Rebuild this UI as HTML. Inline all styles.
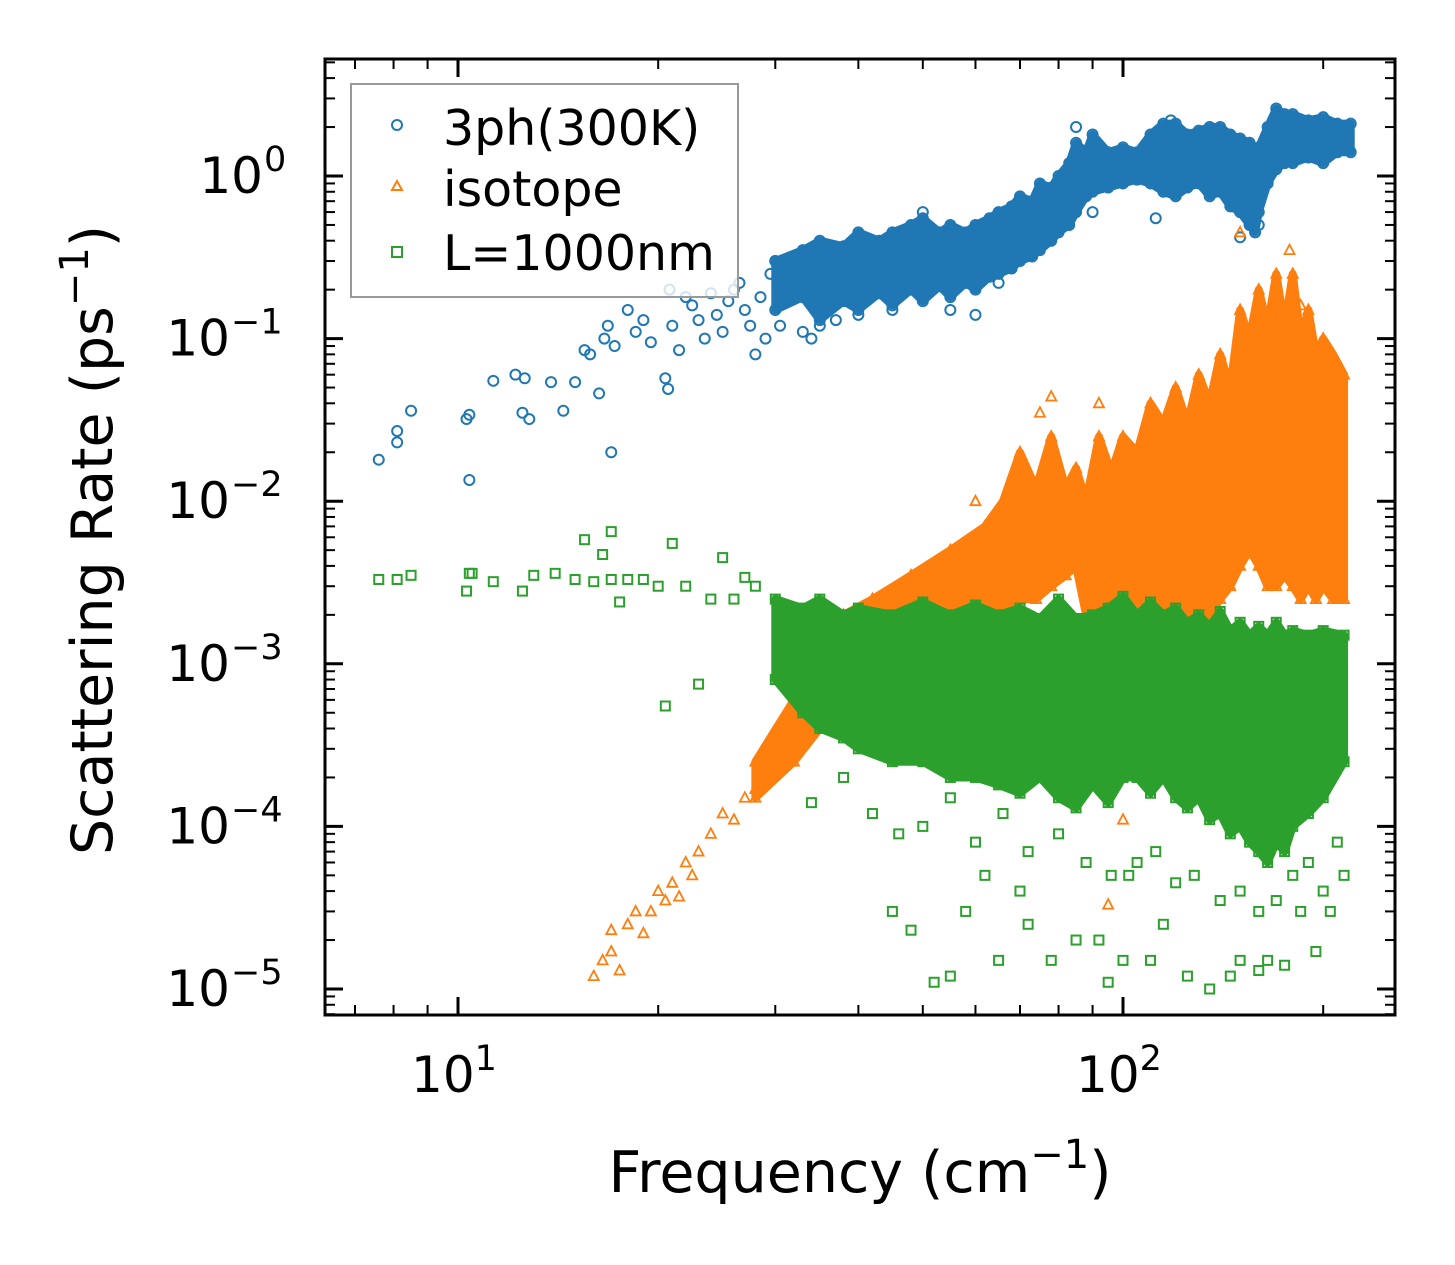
<!DOCTYPE html>
<html><head><meta charset="utf-8"><style>
body{margin:0;background:#fff;}
svg text{font-family:"DejaVu Sans","Liberation Sans",sans-serif;fill:#000;}
</style></head><body>
<svg id="chart" width="1455" height="1265" viewBox="0 0 1455 1265" xmlns="http://www.w3.org/2000/svg" style="position:absolute;left:0;top:0">
<rect width="1455" height="1265" fill="#fff"/>
<g id="marks"></g>
<g id="axes"></g>
</svg>
<script>
// ---- data ----
const blueSparseF=[7.6,8.1,8.1,8.5,10.3,10.4,10.4,11.3,12.2,12.5,12.6,12.8,13.8,14.4,15,15.5,15.8,16.3,16.6,16.8,17,17.2,18,18.5,19,19.5,20.5,20.7,20.8,21,21.5,22,22.5,23,23.5,24,24.5,25,25.5,26,26.5,27,27.5,28,28.5,29,29.5,30,30.5,31,32,33,34,35,37,40,45,50,55,60,65,75,85,90,112,118,150,160];
const blueSparseR=[0.018,0.023,0.027,0.036,0.032,0.034,0.0135,0.055,0.06,0.035,0.057,0.032,0.054,0.036,0.054,0.085,0.08,0.046,0.1,0.12,0.02,0.09,0.15,0.11,0.13,0.095,0.057,0.049,0.2,0.12,0.085,0.18,0.16,0.13,0.1,0.19,0.14,0.11,0.17,0.2,0.22,0.15,0.12,0.08,0.18,0.1,0.25,0.3,0.12,0.2,0.25,0.11,0.1,0.12,0.13,0.14,0.15,0.6,0.15,0.14,0.22,0.5,2.0,0.6,0.55,2.2,0.42,0.5];
const blueBandF=[30,33,35,38,40,43,45,48,50,53,55,58,60,63,65,68,70,73,75,78,80,83,85,88,90,95,100,105,110,115,120,125,130,135,140,145,150,155,158,160,165,170,175,180,190,200,210,220];
const blueBandLo=[0.15,0.18,0.13,0.17,0.15,0.19,0.16,0.2,0.17,0.21,0.18,0.22,0.2,0.24,0.25,0.27,0.3,0.32,0.35,0.4,0.45,0.5,0.6,0.75,0.8,0.85,0.9,0.95,0.9,0.8,0.75,0.85,0.9,0.75,0.8,0.65,0.6,0.5,0.45,0.6,0.9,1.1,1.2,1.2,1.3,1.2,1.4,1.4];
const blueBandHi=[0.3,0.35,0.4,0.37,0.45,0.4,0.45,0.5,0.55,0.45,0.5,0.45,0.5,0.55,0.6,0.65,0.75,0.7,0.9,0.85,1.0,1.2,1.6,1.4,1.8,1.4,1.5,1.4,1.8,2.1,2.1,1.8,1.9,2.0,2.0,1.8,1.7,1.6,1.4,1.5,2.0,2.6,2.4,2.4,2.2,2.3,2.1,2.1];

const orangeSparseF=[16,16.5,17,17,17.5,18,18.5,19,19.5,20,20.5,21,21.5,22,22.5,23,24,25,26,27,28,29,30,95,100,122,60,75,78,92,150,178,185];
const orangeSparseR=[1.2e-5,1.5e-5,1.7e-5,2.3e-5,1.3e-5,2.5e-5,3e-5,2.2e-5,3e-5,4e-5,3.5e-5,4.5e-5,3.7e-5,6e-5,5e-5,7e-5,9e-5,1.2e-4,1.1e-4,1.5e-4,1.7e-4,2e-4,2.5e-4,3.3e-5,1.1e-4,1.5e-4,1e-2,3.5e-2,4.4e-2,4e-2,4.5e-1,3.5e-1,1.6e-1];
const orangeBandF=[28,32,35,38,42,48,55,62,66,70,74,78,82,85,88,92,96,100,105,110,115,120,125,130,135,140,145,150,155,160,165,170,175,180,185,190,195,200,207,215];
const orangeBandLo=[1.5e-4,2.5e-4,4e-4,6e-4,1e-3,1.3e-3,1.5e-3,1.8e-3,2e-3,2.5e-3,2.5e-3,3e-3,3.5e-3,4e-3,2e-3,1e-3,1.2e-3,1.2e-3,1.5e-3,2e-3,1.5e-3,1.5e-3,1.8e-3,1.5e-3,2e-3,2.5e-3,3e-3,4e-3,5e-3,4e-3,3e-3,3e-3,3.5e-3,3e-3,2.5e-3,3e-3,2.5e-3,3e-3,2.5e-3,2.5e-3];
const orangeBandHi=[2.5e-4,6e-4,1.5e-3,2e-3,2.5e-3,3.5e-3,5e-3,7e-3,1e-2,2e-2,1.2e-2,2.5e-2,1.2e-2,1.6e-2,1e-2,2.5e-2,1.5e-2,2.5e-2,2e-2,4e-2,3e-2,5e-2,3e-2,6e-2,4e-2,8e-2,5e-2,1.5e-1,1e-1,2e-1,1.2e-1,2.5e-1,1.2e-1,2.5e-1,1e-1,1.5e-1,8e-2,1e-1,8e-2,6e-2];

const greenSparseF=[7.6,8.1,8.5,10.3,10.4,10.5,11.3,12.5,13,14,15,15.5,16,16.5,17,17,17.5,18,19,20,20.5,21,22,23,24,25,26,27,28,45,48,52,55,58,62,65,70,72,78,85,92,95,100,102,110,115,125,135,145,150,160,165,175,185,195,205,215,34,38,42,46,50,55,60,66,72,80,88,96,105,112,120,128,140,150,160,170,180,190,200,210];
const greenSparseR=[3.3e-3,3.3e-3,3.5e-3,2.8e-3,3.6e-3,3.6e-3,3.2e-3,2.8e-3,3.5e-3,3.6e-3,3.3e-3,5.8e-3,3.2e-3,4.7e-3,3.3e-3,6.5e-3,2.4e-3,3.3e-3,3.3e-3,3e-3,5.5e-4,5.5e-3,3e-3,7.5e-4,2.5e-3,4.5e-3,2.5e-3,3.4e-3,3e-3,3e-5,2.3e-5,1.1e-5,1.2e-5,3e-5,5e-5,1.5e-5,4e-5,2.5e-5,1.5e-5,2e-5,2e-5,1.1e-5,1.5e-5,5e-5,1.5e-5,2.5e-5,1.2e-5,1e-5,1.2e-5,1.5e-5,1.3e-5,1.5e-5,1.4e-5,3e-5,1.7e-5,3e-5,5e-5,1.4e-4,2e-4,1.2e-4,9e-5,1e-4,1.5e-4,8e-5,1.2e-4,7e-5,9e-5,6e-5,5e-5,6e-5,7e-5,4.5e-5,5e-5,3.5e-5,4e-5,3e-5,3.5e-5,5e-5,6e-5,4e-5,8e-5];
const greenBandF=[30,33,35,38,40,45,50,55,60,65,70,75,80,85,90,95,100,105,110,115,120,125,130,135,140,145,150,155,160,165,170,175,180,190,200,215];
const greenBandLo=[8e-4,5e-4,4e-4,3.5e-4,3e-4,2.5e-4,2.5e-4,2e-4,2e-4,1.8e-4,1.6e-4,2e-4,1.5e-4,1.3e-4,1.8e-4,1.4e-4,2e-4,2e-4,1.6e-4,2e-4,1.5e-4,1.3e-4,1.5e-4,1.1e-4,1.2e-4,9e-5,1e-4,8e-5,7e-5,6e-5,8e-5,7e-5,1e-4,1.2e-4,1.5e-4,2.5e-4];
const greenBandHi=[2.5e-3,2.2e-3,2.5e-3,2e-3,2.2e-3,2e-3,2.4e-3,2e-3,2.3e-3,2e-3,2.2e-3,1.9e-3,2.5e-3,1.9e-3,2e-3,2.2e-3,2.6e-3,2e-3,2.4e-3,2e-3,2.2e-3,1.8e-3,2e-3,1.7e-3,2.1e-3,1.6e-3,1.8e-3,1.5e-3,1.7e-3,1.5e-3,1.8e-3,1.5e-3,1.6e-3,1.5e-3,1.6e-3,1.5e-3];

const xTickVals=[10,100];
const yTickExps=[0,-1,-2,-3,-4,-5];

// ---- axes ----
const L=325,R=1395,T=59,B=1015;
const X0=458,XD=665;
const Y0=176,YD=162.6;
const xs=f=>X0+(Math.log10(f)-1)*XD;
const ys=r=>Y0-Math.log10(r)*YD;
const NS='http://www.w3.org/2000/svg';
const marks=document.getElementById('marks'),axes=document.getElementById('axes');
function mk(tag,attrs,parent){const e=document.createElementNS(NS,tag);for(const k in attrs)e.setAttribute(k,attrs[k]);parent.appendChild(e);return e;}

const colors={blue:'#1f77b4',orange:'#ff7f0e',green:'#2ca02c'};
function marker(type,cx,cy,col,g){
  let e;
  if(type==='circle'){e=mk('circle',{cx:cx,cy:cy,r:5,fill:'none',stroke:col,'stroke-width':2},g);}
  else if(type==='tri'){e=mk('polygon',{points:`${cx},${cy-5.5} ${cx-5},${cy+4} ${cx+5},${cy+4}`,fill:'none',stroke:col,'stroke-width':1.8},g);}
  else {e=mk('rect',{x:cx-4.5,y:cy-4.5,width:9,height:9,fill:'none',stroke:col,'stroke-width':2},g);}
  return e;
}
function series(name,type,col,sf,sr,bf,blo,bhi){
  const g=mk('g',{},marks);
  
  
  g.setAttribute('clip-path','url(#plotclip)');
  let pts=bf.map((f,i)=>xs(f)+','+ys(bhi[i]));
  for(let i=bf.length-1;i>=0;i--)pts.push(xs(bf[i])+','+ys(blo[i]));
  const band=mk('polygon',{points:pts.join(' '),fill:col,stroke:col,'stroke-width':8,'stroke-linejoin':'round'},g);
  
  
  bf.forEach((f,i)=>{
    const a=marker(type,xs(f),ys(bhi[i]),col,g);
    
    
    const b=marker(type,xs(f),ys(blo[i]),col,g);
    
    
  });
  sf.forEach((f,i)=>{
    const p=marker(type,xs(f),ys(sr[i]),col,g);
    
    
  });
}
const defs=mk('defs',{},document.getElementById('chart'));
const cp=mk('clipPath',{id:'plotclip'},defs);
mk('rect',{x:L,y:T,width:R-L,height:B-T},cp);

series('three-phonon','circle',colors.blue,blueSparseF,blueSparseR,blueBandF,blueBandLo,blueBandHi);
series('isotope','tri',colors.orange,orangeSparseF,orangeSparseR,orangeBandF,orangeBandLo,orangeBandHi);
series('boundary','square',colors.green,greenSparseF,greenSparseR,greenBandF,greenBandLo,greenBandHi);

const fr=mk('rect',{x:L,y:T,width:R-L,height:B-T,fill:'none',stroke:'#000','stroke-width':3},axes);



for(let d=0;d<=2;d++){for(let m=1;m<=9;m++){
  const v=m*Math.pow(10,d);const x=xs(v);if(x<L||x>R)continue;
  const len=m===1?18:10;
  mk('line',{x1:x,y1:B,x2:x,y2:B-len,stroke:'#000','stroke-width':m===1?3:2},axes);
  mk('line',{x1:x,y1:T,x2:x,y2:T+len,stroke:'#000','stroke-width':m===1?3:2},axes);
}}
xTickVals.forEach(v=>{
  const t=mk('text',{x:xs(v)-4,y:1092,'font-size':50,'text-anchor':'middle'},axes);
  
  
  t.innerHTML='10<tspan dy="-22" font-size="35">'+Math.round(Math.log10(v))+'</tspan>';
});
for(let e=-6;e<=1;e++){for(let m=1;m<=9;m++){
  const y=ys(m*Math.pow(10,e));if(y<T||y>B)continue;
  const len=m===1?18:10;
  mk('line',{x1:L,y1:y,x2:L+len,y2:y,stroke:'#000','stroke-width':m===1?3:2},axes);
  mk('line',{x1:R,y1:y,x2:R-len,y2:y,stroke:'#000','stroke-width':m===1?3:2},axes);
}}
yTickExps.forEach(e=>{
  const lx=e===0?263:230;
  const t=mk('text',{x:lx,y:ys(Math.pow(10,e))+17,'font-size':50,'text-anchor':'end'},axes);
  
  
  t.textContent='10';
  const s=mk('text',{x:lx+1,y:ys(Math.pow(10,e))-5,'font-size':35,'text-anchor':'start'},axes);
  
  
  s.textContent=e===0?'0':'\u2212'+(-e);
});
</script>
<svg style="position:absolute;left:0;top:0" width="1455" height="1265" xmlns="http://www.w3.org/2000/svg">
<text x="860" y="1192" font-size="57" text-anchor="middle">Frequency (cm<tspan dy="-24" font-size="40">−1</tspan><tspan dy="24">)</tspan></text>
<text transform="translate(112,540) rotate(-90)" font-size="57" text-anchor="middle">Scattering Rate (ps<tspan dy="-24" font-size="40">−1</tspan><tspan dy="24">)</tspan></text>
<g>
<rect x="351" y="84" width="387" height="213" fill="#fff" fill-opacity="0.8" stroke="#999" stroke-width="2"/>
<circle cx="397" cy="125" r="5" fill="none" stroke="#1f77b4" stroke-width="2"/>
<text x="443" y="145" font-size="49">3ph(300K)</text>
<polygon points="397,181 392,190 402,190" fill="none" stroke="#ff7f0e" stroke-width="2"/>
<text x="443" y="206" font-size="49">isotope</text>
<rect x="392" y="247" width="10" height="10" fill="none" stroke="#2ca02c" stroke-width="2"/>
<text x="443" y="270" font-size="49">L=1000nm</text>
</g>
</svg>
</body></html>
